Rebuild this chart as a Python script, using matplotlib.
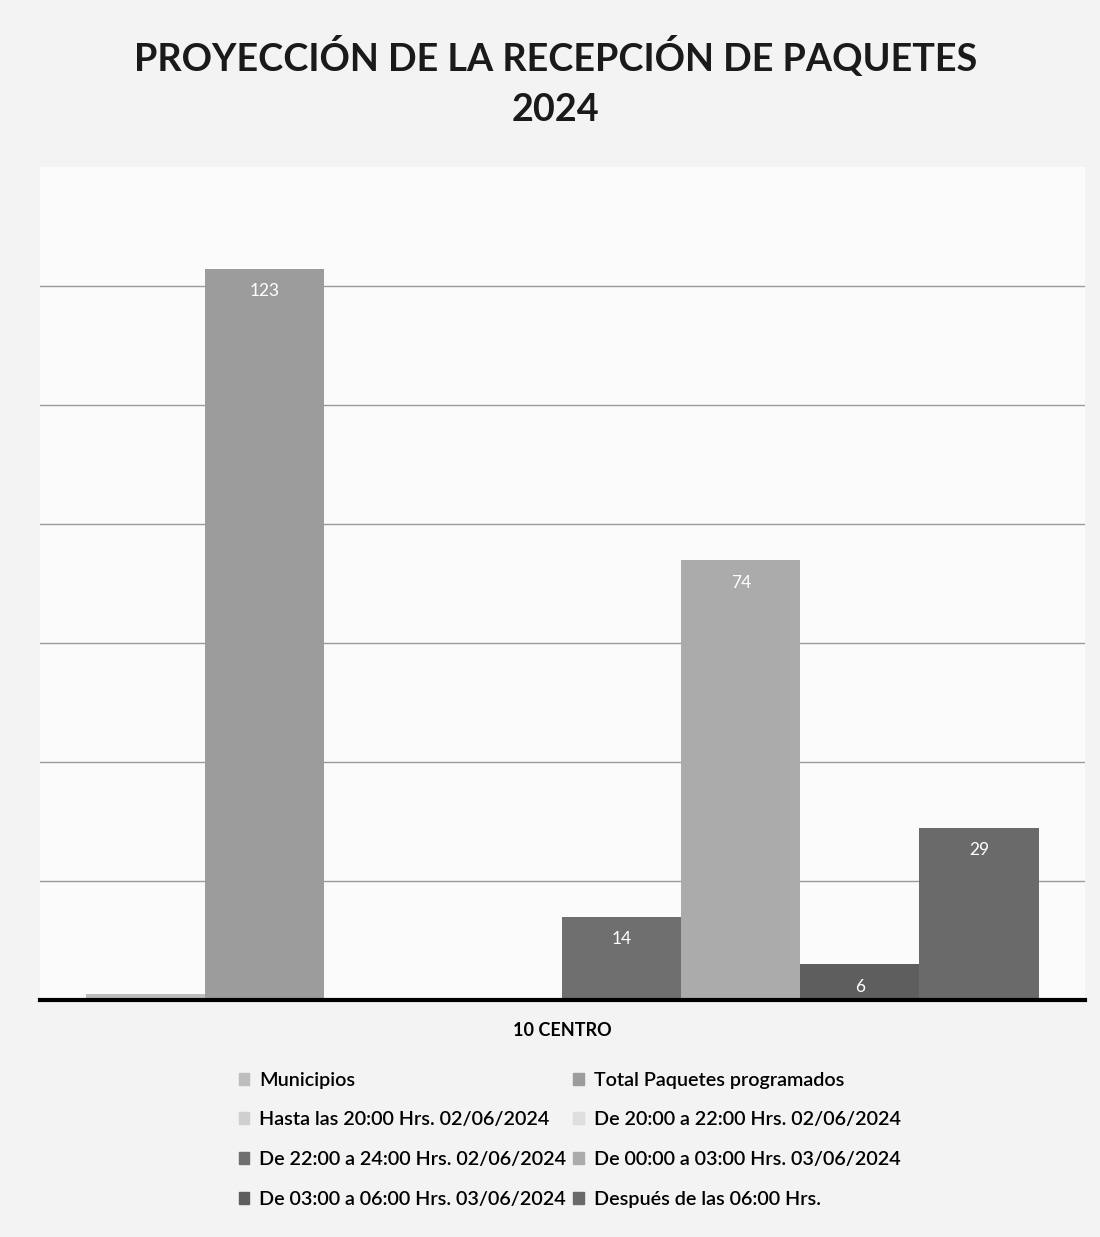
import numpy as np
import matplotlib
matplotlib.use("Agg")
import matplotlib.pyplot as plt
from matplotlib.patches import Patch

plt.rcParams["font.family"] = ["Lato", "DejaVu Sans"]

# data
category = "10 CENTRO"
series = ["Municipios",
          "Total Paquetes programados",
          "Hasta las 20:00 Hrs. 02/06/2024",
          "De 20:00 a 22:00 Hrs. 02/06/2024",
          "De 22:00 a 24:00 Hrs. 02/06/2024",
          "De 00:00 a 03:00 Hrs. 03/06/2024",
          "De 03:00 a 06:00 Hrs. 03/06/2024",
          "Después de las 06:00 Hrs."]
values = [1, 123, 0, 0, 14, 74, 6, 29]
colors = ["#bdbdbd", "#9c9c9c", "#cfcfcf", "#dedede",
          "#6f6f6f", "#ababab", "#5e5e5e", "#6a6a6a"]

fig = plt.figure(figsize=(11, 12.37), dpi=100, facecolor="#f3f3f3")
ax = fig.add_axes([0.036, 0.1916, 0.95, 0.673])
ax.set_facecolor("#fbfbfb")

w = 0.114
n = len(values)
for i, (v, c) in enumerate(zip(values, colors)):
    b = ax.bar((i - (n - 1) / 2) * w, v, width=w, color=c, zorder=3, label=series[i])
    if v >= 5:
        ax.bar_label(b, labels=[str(v)], label_type="edge", padding=-22,
                     color="white", fontsize=12.5)

ax.set_xlim(-0.5, 0.5)
ax.set_ylim(0, 140)
ax.set_yticks(np.arange(0, 121, 20))
ax.yaxis.grid(True, color="#9a9a9a", lw=1, zorder=0)
ax.tick_params(left=False, labelleft=False, bottom=False, pad=12)
ax.set_xticks([0])
ax.set_xticklabels([category], fontsize=13, fontweight="bold")
for s in ["top", "right", "left"]:
    ax.spines[s].set_visible(False)
ax.spines["bottom"].set_linewidth(3)
ax.spines["bottom"].set_color("black")
ax.spines["bottom"].set_zorder(5)

fig.text(0.505, 0.934, "PROYECCIÓN DE LA RECEPCIÓN DE PAQUETES\n2024",
         ha="center", va="center", fontsize=27.2, fontweight="bold",
         linespacing=1.55, color="#1a1a1a")

# legend filled row by row like the original (two columns)
order = [0, 2, 4, 6, 1, 3, 5, 7]
handles = [Patch(color=colors[k]) for k in order]
labels = [series[k] for k in order]
fig.legend(handles, labels, ncol=2, loc="upper center",
           bbox_to_anchor=(0.518, 0.148), frameon=False,
           prop={"size": 14.2, "weight": "semibold"},
           handlelength=0.55, handleheight=0.55, handletextpad=0.5,
           columnspacing=0.35, labelspacing=1.15)

fig.savefig("out.png", dpi=100, facecolor=fig.get_facecolor())
